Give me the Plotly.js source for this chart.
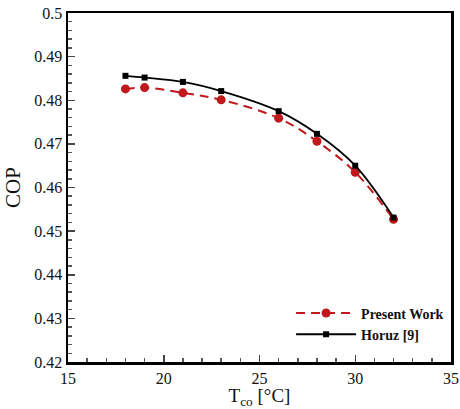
<!DOCTYPE html>
<html>
<head>
<meta charset="utf-8">
<script src="https://cdn.plot.ly/plotly-3.0.1.min.js"></script>
<style>html,body{margin:0;padding:0;background:#fff;}#chart{width:460px;height:409px;}</style>
</head>
<body>
<div id="chart"></div>
<script>
var tco = [18, 19, 21, 23, 26, 28, 30, 32];
var presentWork = [0.4826, 0.4829, 0.4817, 0.4801, 0.4759, 0.4706, 0.4635, 0.4527];
var horuz = [0.4856, 0.4852, 0.4842, 0.4821, 0.4775, 0.4723, 0.4650, 0.4531];
var yTicks = [0.42, 0.43, 0.44, 0.45, 0.46, 0.47, 0.48, 0.49, 0.5];
var yTickText = ['0.42', '0.43', '0.44', '0.45', '0.46', '0.47', '0.48', '0.49', '0.5'];

var font = 'Liberation Serif';
var traces = [
  {x: tco, y: presentWork, name: 'Present Work', mode: 'lines+markers',
   line: {color: '#c0181c', dash: '9px,6px', width: 2, shape: 'spline'},
   marker: {color: '#c0181c', symbol: 'circle', size: 9}},
  {x: tco, y: horuz, name: 'Horuz [9]', mode: 'lines+markers',
   line: {color: '#000', width: 1.8, shape: 'spline'},
   marker: {color: '#000', symbol: 'square', size: 6}}
];
var layout = {
  width: 460, height: 409,
  margin: {l: 68, r: 9, t: 13, b: 47},
  paper_bgcolor: '#fff', plot_bgcolor: '#fff',
  font: {family: font, color: '#111', size: 15},
  showlegend: true,
  legend: {x: 0.995, xanchor: 'right', y: 0.185, yanchor: 'top', bgcolor: 'rgba(0,0,0,0)',
           font: {family: font, size: 14, color: '#111', weight: 'bold'}, itemwidth: 60, tracegroupgap: 0},
  xaxis: {range: [15, 35], dtick: 5, tick0: 15, ticks: 'inside', ticklen: 7, tickwidth: 1.5,
          showgrid: false, zeroline: false, showline: true, linecolor: '#000', linewidth: 2.5, mirror: true,
          minor: {dtick: 1, ticks: 'inside', ticklen: 4, tickcolor: '#555', showgrid: false},
          title: {text: 'T<sub>co</sub> [°C]', font: {family: font, size: 19, color: '#111'}, standoff: 4},
          tickfont: {family: font, size: 16, color: '#111'}},
  yaxis: {range: [0.42, 0.5], tickvals: yTicks, ticktext: yTickText, ticks: 'inside', ticklen: 7, tickwidth: 1.5,
          showgrid: false, zeroline: false, showline: true, linecolor: '#000', linewidth: 2.5, mirror: true,
          minor: {dtick: 0.002, ticks: 'inside', ticklen: 4, tickcolor: '#555', showgrid: false},
          title: {text: 'COP', font: {family: font, size: 21, color: '#111'}, standoff: 8},
          tickfont: {family: font, size: 16, color: '#111'}}
};
Plotly.newPlot('chart', traces, layout, {displayModeBar: false, staticPlot: true});
</script>
</body>
</html>
